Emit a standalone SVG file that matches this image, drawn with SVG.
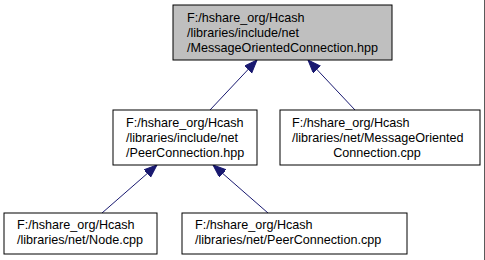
<svg xmlns="http://www.w3.org/2000/svg" width="485" height="260" viewBox="0 0 485 260">
  <defs>
    <style>
      .box { fill: #ffffff; stroke: #000000; stroke-width: 1; }
      .box.focus { fill: #bfbfbf; }
      .lbl { font-family: "Liberation Sans", Arial, sans-serif; font-size: 12.6px; fill: #000000; }
      .mid { text-anchor: middle; }
      .edge { stroke: #191970; stroke-width: 1; fill: none; marker-end: url(#arrow); }
    </style>
    <marker id="arrow" markerUnits="userSpaceOnUse" markerWidth="15" markerHeight="12" refX="13" refY="5" orient="auto">
      <path d="M0,0 L13,5 L0,10 z" fill="#191970" stroke="#191970" stroke-width="1"/>
    </marker>
  </defs>
  <rect width="485" height="260" fill="#ffffff"/>
  <line x1="484.5" y1="0" x2="484.5" y2="260" stroke="#5a5a5a" stroke-width="1"/>

  <g id="edges">
    <line class="edge" x1="210" y1="110" x2="257" y2="60"/>
    <line class="edge" x1="355" y1="110" x2="308" y2="60"/>
    <line class="edge" x1="102" y1="213" x2="157" y2="165"/>
    <line class="edge" x1="268" y1="213" x2="213" y2="165"/>
  </g>

  <g id="node-moc-hpp">
    <rect class="box focus" x="173" y="5" width="219" height="55"/>
    <text class="lbl" x="187" y="22">F:/hshare_org/Hcash</text>
    <text class="lbl" x="187" y="37">/libraries/include/net</text>
    <text class="lbl" x="187" y="52">/MessageOrientedConnection.hpp</text>
  </g>

  <g id="node-peer-hpp">
    <rect class="box" x="113" y="110" width="144" height="55"/>
    <text class="lbl" x="126" y="127">F:/hshare_org/Hcash</text>
    <text class="lbl" x="126" y="142">/libraries/include/net</text>
    <text class="lbl" x="126" y="157">/PeerConnection.hpp</text>
  </g>

  <g id="node-moc-cpp">
    <rect class="box" x="280" y="110" width="200" height="55"/>
    <text class="lbl" x="292" y="127">F:/hshare_org/Hcash</text>
    <text class="lbl" x="292" y="142">/libraries/net/MessageOriented</text>
    <text class="lbl mid" x="377" y="157">Connection.cpp</text>
  </g>

  <g id="node-node-cpp">
    <rect class="box" x="4" y="213" width="153" height="41"/>
    <text class="lbl" x="17" y="229">F:/hshare_org/Hcash</text>
    <text class="lbl" x="17" y="244">/libraries/net/Node.cpp</text>
  </g>

  <g id="node-peer-cpp">
    <rect class="box" x="182" y="213" width="225" height="41"/>
    <text class="lbl" x="195" y="229">F:/hshare_org/Hcash</text>
    <text class="lbl" x="195" y="244">/libraries/net/PeerConnection.cpp</text>
  </g>
</svg>
